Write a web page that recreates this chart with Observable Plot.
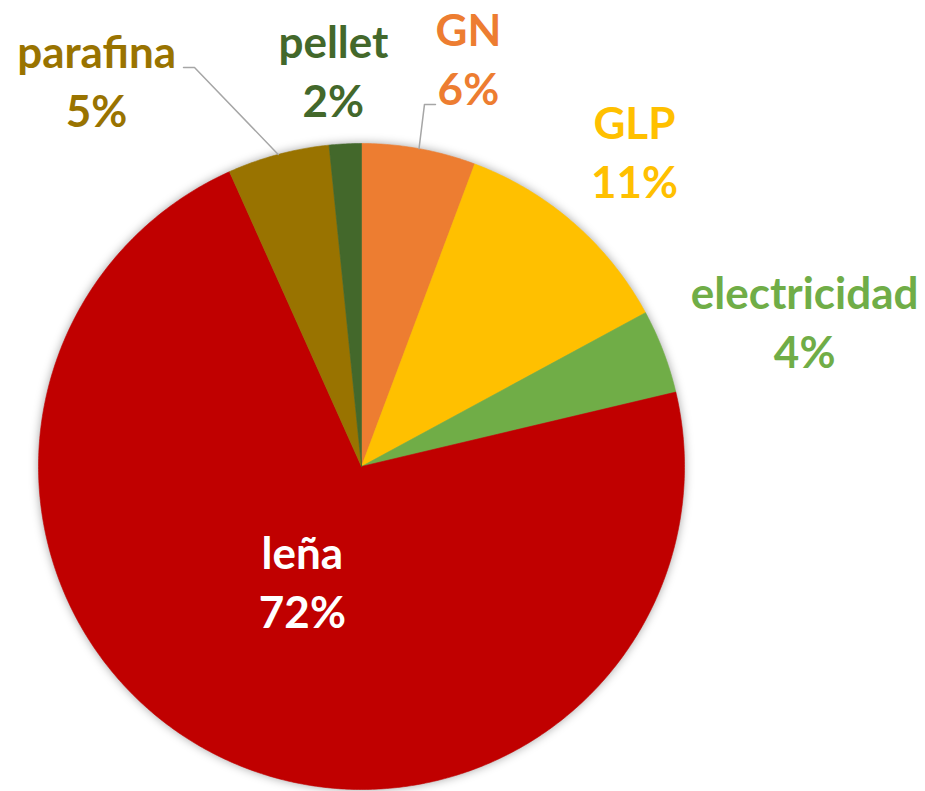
<!DOCTYPE html>
<html><head><meta charset="utf-8">
<script src="https://cdn.jsdelivr.net/npm/d3@7"></script>
<script src="https://cdn.jsdelivr.net/npm/@observablehq/plot@0.6"></script>
<style>
html,body{margin:0;padding:0;background:#fff;}
</style></head><body><div id="chart"></div>
<script>
// ---- data ----
const categories = ["GN", "GLP", "electricidad", "leña", "parafina", "pellet"];
const shares = [5.7, 11.4, 4.2, 72.0, 5.1, 1.6];
const percentLabels = ["6%", "11%", "4%", "72%", "5%", "2%"];

// ---- styles / layout ----
const sliceColors = ["#ED7D31", "#FFC000", "#70AD47", "#C00000", "#997300", "#43682B"];
const textColors = ["#ED7D31", "#FFC000", "#70AD47", "#FFFFFF", "#997300", "#43682B"];
// label anchor (x, name baseline y) in pie-radius units
const labelPos = [[0.331, 1.303], [0.845, 1.015], [1.372, 0.489], [-0.183, -0.316], [-0.820, 1.235], [-0.087, 1.266]];
// leader line elbows (end, elbow) for slices that have them
const leaders = {"GN": [[0.229, 1.121], [0.195, 1.121]], "parafina": [[-0.551, 1.235], [-0.517, 1.235]]};
const fontSize = 44, lineGap = 59;

const arcs = d3.pie().sort(null).startAngle(0).endAngle(2 * Math.PI)(shares);
const slicePts = [];
arcs.forEach((a, i) => {
  const name = categories[i];
  slicePts.push({name, x: 0, y: 0});
  const n = Math.max(2, Math.ceil((a.endAngle - a.startAngle) / (Math.PI / 360)));
  for (let k = 0; k <= n; k++) {
    const t = a.startAngle + (a.endAngle - a.startAngle) * k / n;
    slicePts.push({name, x: Math.sin(t), y: Math.cos(t)});
  }
  slicePts.push({name, x: 0, y: 0});
});

const leaderPts = [];
Object.entries(leaders).forEach(([name, pts]) => {
  const i = categories.indexOf(name);
  const mid = (arcs[i].startAngle + arcs[i].endAngle) / 2;
  pts.forEach(p => leaderPts.push({name, x: p[0], y: p[1]}));
  leaderPts.push({name, x: Math.sin(mid), y: Math.cos(mid)});
});

const textMarks = [];
categories.forEach((c, i) => {
  const row = [{name: c, pct: percentLabels[i], x: labelPos[i][0], y: labelPos[i][1]}];
  const common = {x: "x", y: "y", fill: textColors[i], fontSize, fontWeight: "bold",
    fontFamily: "Lato, 'Open Sans', sans-serif", textAnchor: "middle", lineAnchor: "bottom"};
  textMarks.push(Plot.text(row, {...common, text: "name"}));
  textMarks.push(Plot.text(row, {...common, text: "pct", dy: lineGap}));
});

const chart = Plot.plot({
  width: 925, height: 791,
  margin: 0,
  x: {domain: [-1, 1], range: [38, 684], axis: null},
  y: {domain: [-1, 1], range: [789, 143], axis: null},
  color: {domain: categories, range: sliceColors},
  style: {background: "#fff", overflow: "visible"},
  marks: [
    Plot.line(slicePts, {x: "x", y: "y", z: "name", fill: "name", stroke: "name", strokeWidth: 0.6, curve: "linear"}),
    Plot.line(leaderPts, {x: "x", y: "y", z: "name", stroke: "#A6A6A6", strokeWidth: 1.5, curve: "linear"}),
    ...textMarks
  ]
});
const sliceG = chart.querySelector('g[aria-label="line"]');
if (sliceG) sliceG.style.filter = "drop-shadow(0px 0px 5px rgba(0,0,0,0.35))";
document.getElementById("chart").appendChild(chart);
</script></body></html>
